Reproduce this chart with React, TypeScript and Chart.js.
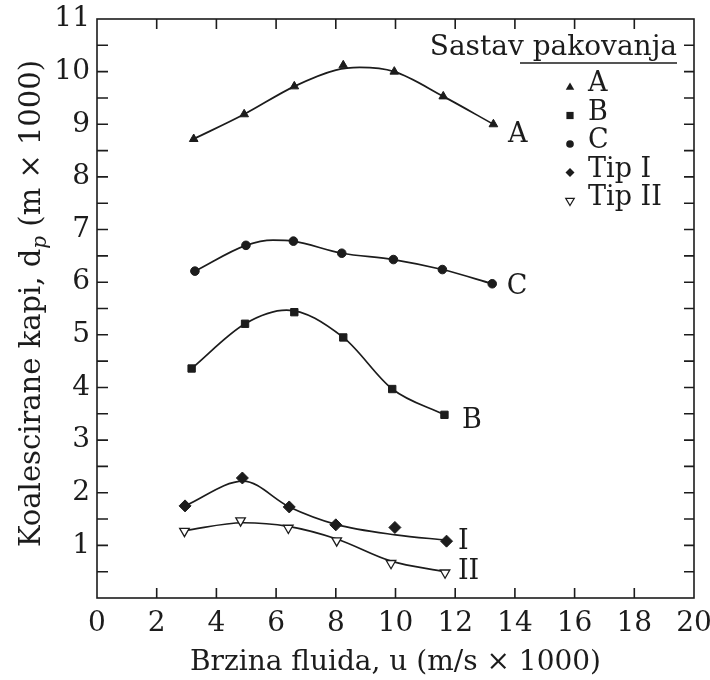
import React, { useEffect, useRef } from 'react';
import { Chart, registerables } from 'chart.js';

Chart.register(...registerables);

const FONT = '"DejaVu Serif", "Liberation Serif", serif';
const INK = '#1c1c1c';

// axis ticks (inward tick marks)
const xTickMarks = [2, 4, 6, 8, 10, 12, 14, 16, 18];
const yTickMarks = [0.5, 1, 1.5, 2, 2.5, 3, 3.5, 4, 4.5, 5, 5.5, 6, 6.5, 7, 7.5, 8, 8.5, 9, 9.5, 10, 10.5];

// measured points
const aX = [3.24, 4.93, 6.61, 8.25, 9.96, 11.6, 13.28];
const aY = [8.72, 9.19, 9.72, 10.12, 10.0, 9.53, 9.0];
const bX = [3.17, 4.96, 6.61, 8.25, 9.89, 11.64];
const bY = [4.36, 5.21, 5.43, 4.95, 3.97, 3.48];
const cX = [3.28, 4.99, 6.58, 8.2, 9.93, 11.57, 13.24];
const cY = [6.21, 6.7, 6.78, 6.55, 6.43, 6.24, 5.97];
const t1X = [2.95, 4.87, 6.44, 8.0, 9.98, 11.71];
const t1Y = [1.75, 2.28, 1.73, 1.39, 1.34, 1.08];
const t2X = [2.93, 4.81, 6.41, 8.03, 9.85, 11.66];
const t2Y = [1.27, 1.47, 1.33, 1.09, 0.66, 0.48];

// fitted curves
const aCurveX = [3.24, 4.93, 6.61, 8.0, 8.8, 9.96, 11.6, 13.28];
const aCurveY = [8.72, 9.19, 9.72, 10.03, 10.08, 10.0, 9.53, 9.0];
const bCurveX = [3.17, 4.96, 6.35, 8.25, 9.89, 11.64];
const bCurveY = [4.36, 5.21, 5.47, 4.95, 3.97, 3.48];
const cCurveX = [3.28, 4.99, 5.9, 6.58, 8.2, 9.93, 11.57, 13.24];
const cCurveY = [6.21, 6.7, 6.8, 6.78, 6.55, 6.43, 6.24, 5.97];
const t1CurveX = [2.95, 4.9, 6.44, 8.0, 10.0, 11.71];
const t1CurveY = [1.75, 2.22, 1.73, 1.4, 1.2, 1.1];
const t2CurveX = [2.93, 4.9, 6.41, 8.03, 9.85, 11.66];
const t2CurveY = [1.28, 1.43, 1.36, 1.12, 0.7, 0.5];

// curve end labels
const curveLabels = ['A', 'C', 'B', 'I', 'II'];
const curveLabelX = [13.77, 13.73, 12.23, 12.09, 12.09];
const curveLabelY = [8.79, 5.9, 3.37, 1.07, 0.49];

// legend
const legendTitle = 'Sastav pakovanja';
const legendNames = ['A', 'B', 'C', 'Tip I', 'Tip II'];
const legendStyles = ['tri', 'sq', 'circ', 'dia', 'tridown'];

const xTitle = 'Brzina fluida, u (m/s \u00d7 1000)';
const yTitleMain = 'Koalescirane kapi, d';
const yTitleSub = 'p';
const yTitleRest = ' (m \u00d7 1000)';

const pts = (xs: number[], ys: number[]) => xs.map((x, i) => ({ x, y: ys[i] }));

function drawMarker(ctx: CanvasRenderingContext2D, style: string, x: number, y: number, r: number) {
  ctx.save();
  ctx.fillStyle = INK;
  ctx.strokeStyle = INK;
  ctx.lineWidth = 1.2;
  ctx.beginPath();
  if (style === 'tri') {
    ctx.moveTo(x, y - r);
    ctx.lineTo(x + r * 0.95, y + r * 0.6);
    ctx.lineTo(x - r * 0.95, y + r * 0.6);
    ctx.closePath();
    ctx.fill();
  } else if (style === 'sq') {
    ctx.rect(x - r * 0.8, y - r * 0.8, r * 1.6, r * 1.6);
    ctx.fill();
  } else if (style === 'circ') {
    ctx.arc(x, y, r * 0.85, 0, Math.PI * 2);
    ctx.fill();
  } else if (style === 'dia') {
    ctx.moveTo(x, y - r);
    ctx.lineTo(x + r, y);
    ctx.lineTo(x, y + r);
    ctx.lineTo(x - r, y);
    ctx.closePath();
    ctx.fill();
  } else {
    ctx.moveTo(x, y + r);
    ctx.lineTo(x + r * 0.95, y - r * 0.6);
    ctx.lineTo(x - r * 0.95, y - r * 0.6);
    ctx.closePath();
    ctx.fillStyle = '#fff';
    ctx.fill();
    ctx.stroke();
  }
  ctx.restore();
}

const decorPlugin = {
  id: 'decor',
  afterDraw(chart: any) {
    const { ctx, chartArea: ca, scales } = chart;
    const xs = scales.x;
    const ys = scales.y;
    ctx.save();
    ctx.strokeStyle = INK;
    ctx.lineWidth = 1.6;
    ctx.strokeRect(ca.left, ca.top, ca.right - ca.left, ca.bottom - ca.top);
    ctx.beginPath();
    for (const v of xTickMarks) {
      const px = xs.getPixelForValue(v);
      ctx.moveTo(px, ca.bottom);
      ctx.lineTo(px, ca.bottom - 10);
      ctx.moveTo(px, ca.top);
      ctx.lineTo(px, ca.top + 10);
    }
    for (const v of yTickMarks) {
      const py = ys.getPixelForValue(v);
      ctx.moveTo(ca.left, py);
      ctx.lineTo(ca.left + 11, py);
      ctx.moveTo(ca.right, py);
      ctx.lineTo(ca.right - 10, py);
    }
    ctx.stroke();

    // curve labels
    ctx.fillStyle = INK;
    ctx.font = `27px ${FONT}`;
    ctx.textAlign = 'left';
    ctx.textBaseline = 'middle';
    curveLabels.forEach((t, i) => {
      ctx.fillText(t, xs.getPixelForValue(curveLabelX[i]), ys.getPixelForValue(curveLabelY[i]));
    });

    // legend
    ctx.textBaseline = 'alphabetic';
    ctx.textAlign = 'right';
    ctx.font = `28px ${FONT}`;
    const titleRight = ca.right - 17;
    const titleBase = ca.top + 36;
    ctx.fillText(legendTitle, titleRight, titleBase);
    ctx.lineWidth = 1.4;
    ctx.beginPath();
    ctx.moveTo(ca.right - 174, titleBase + 8);
    ctx.lineTo(titleRight, titleBase + 8);
    ctx.stroke();
    ctx.textAlign = 'left';
    ctx.textBaseline = 'middle';
    ctx.font = `27px ${FONT}`;
    legendNames.forEach((n, i) => {
      const cy = ca.top + 65 + i * 28.5;
      drawMarker(ctx, legendStyles[i], ca.right - 124, cy + 3, 4.5);
      ctx.fillText(n, ca.right - 106, cy);
    });

    // y axis title with subscript
    ctx.save();
    const cyT = (ca.top + ca.bottom) / 2 - 5;
    ctx.translate(ca.left - 57, cyT);
    ctx.rotate(-Math.PI / 2);
    ctx.textAlign = 'left';
    ctx.textBaseline = 'alphabetic';
    const fMain = `29px ${FONT}`;
    const fSub = `italic 20px ${FONT}`;
    ctx.font = fMain;
    const w1 = ctx.measureText(yTitleMain).width;
    const w3 = ctx.measureText(yTitleRest).width;
    ctx.font = fSub;
    const w2 = ctx.measureText(yTitleSub).width;
    const start = -(w1 + w2 + w3) / 2;
    ctx.font = fMain;
    ctx.fillText(yTitleMain, start, 0);
    ctx.font = fSub;
    ctx.fillText(yTitleSub, start + w1, 6);
    ctx.font = fMain;
    ctx.fillText(yTitleRest, start + w1 + w2, 0);
    ctx.restore();

    ctx.restore();
  },
};

export default function App() {
  const ref = useRef<HTMLCanvasElement | null>(null);
  useEffect(() => {
    if (!ref.current) return;
    const curve = (xs: number[], ys: number[]) => ({
      data: pts(xs, ys),
      showLine: true,
      borderColor: INK,
      borderWidth: 1.7,
      pointRadius: 0,
      cubicInterpolationMode: 'monotone' as const,
      fill: false,
      order: 2,
    });
    const markers = (xs: number[], ys: number[], style: string, r: number, open = false, rotation = 0) => ({
      data: pts(xs, ys),
      showLine: false,
      pointStyle: style,
      pointRadius: r,
      rotation,
      backgroundColor: open ? '#ffffff' : INK,
      borderColor: INK,
      borderWidth: open ? 1.3 : 1,
      order: 1,
    });
    const chart = new Chart(ref.current, {
      type: 'scatter',
      data: {
        datasets: [
          curve(aCurveX, aCurveY),
          curve(bCurveX, bCurveY),
          curve(cCurveX, cCurveY),
          curve(t1CurveX, t1CurveY),
          curve(t2CurveX, t2CurveY),
          markers(aX, aY, 'triangle', 5),
          markers(bX, bY, 'rect', 5.2),
          markers(cX, cY, 'circle', 4.3),
          markers(t1X, t1Y, 'rectRot', 6),
          markers(t2X, t2Y, 'triangle', 5.5, true, 180),
        ] as any,
      },
      options: {
        animation: false,
        responsive: true,
        maintainAspectRatio: false,
        layout: { padding: { left: 0, top: 19, right: 16, bottom: 0 } },
        plugins: { legend: { display: false }, tooltip: { enabled: false } },
        scales: {
          x: {
            type: 'linear',
            min: 0,
            max: 20,
            afterFit: (s: any) => { s.height = 82; s.paddingLeft = 0; s.paddingRight = 0; },
            grid: { display: false, drawTicks: false },
            border: { display: false },
            ticks: { stepSize: 2, autoSkip: false, maxRotation: 0, padding: 9, color: INK, font: { family: FONT, size: 28 } },
            title: { display: true, text: xTitle, color: INK, font: { family: FONT, size: 28 }, padding: { top: 0, bottom: 0 } },
          },
          y: {
            type: 'linear',
            min: 0,
            max: 11,
            afterFit: (s: any) => { s.width = 97; s.paddingTop = 0; s.paddingBottom = 0; },
            grid: { display: false, drawTicks: false },
            border: { display: false },
            ticks: {
              stepSize: 1,
              padding: 7,
              color: INK,
              font: { family: FONT, size: 28 },
              callback: (v: any) => (v === 0 ? '' : String(v)),
            },
          },
        },
      } as any,
      plugins: [decorPlugin],
    });
    return () => chart.destroy();
  }, []);
  return (
    <div style={{ position: 'fixed', left: 0, top: 0, width: 710, height: 680, background: '#fff' }}>
      <canvas ref={ref} />
    </div>
  );
}
